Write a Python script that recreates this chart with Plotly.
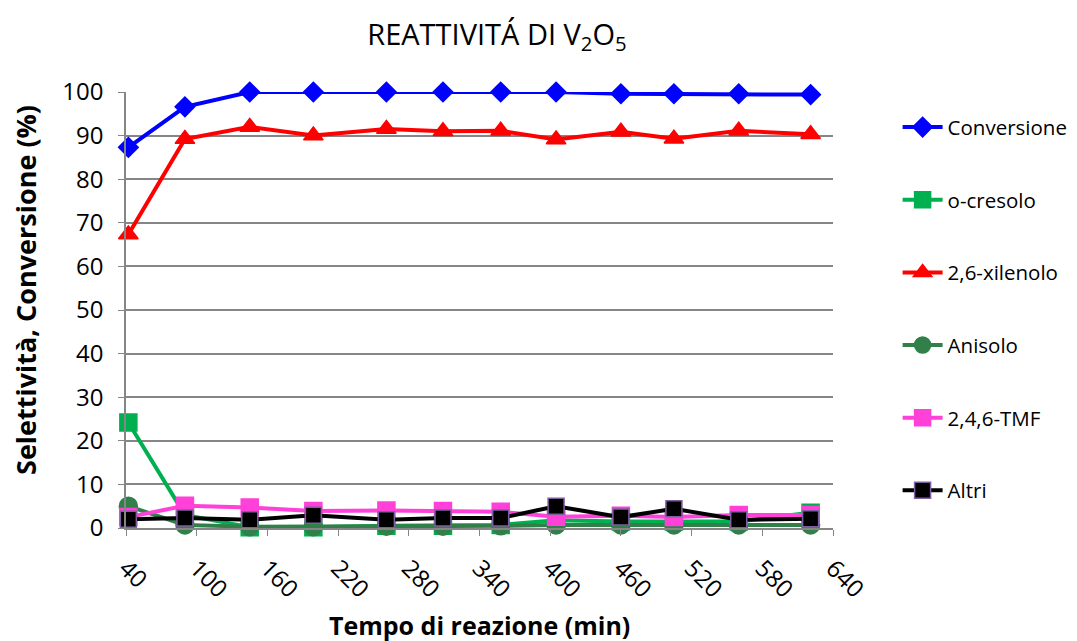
import plotly.graph_objects as go

# Tempo di reazione (min)
tempo = [42, 90, 145, 199, 261, 309, 358, 405, 460, 505, 560, 621]

conversione = [87.3, 96.6, 100.0, 100.0, 100.0, 100.0, 100.0, 100.0, 99.6, 99.6, 99.6, 99.4]
o_cresolo = [24.2, 3.0, 0.2, 0.2, 0.5, 0.5, 0.7, 1.8, 1.5, 1.5, 1.5, 3.5]
xilenolo = [67.3, 89.2, 92.0, 90.0, 91.5, 91.0, 91.1, 89.1, 90.9, 89.3, 91.1, 90.3]
anisolo = [5.0, 0.7, 0.3, 0.3, 0.4, 0.4, 0.5, 0.7, 0.7, 0.7, 0.7, 0.7]
tmf = [2.5, 5.1, 4.7, 3.9, 4.0, 3.9, 3.7, 2.6, 2.8, 2.5, 3.0, 3.0]
altri = [2.0, 2.3, 1.9, 2.9, 1.9, 2.3, 2.3, 5.0, 2.5, 4.4, 1.9, 2.1]

x_ticks = list(range(40, 641, 60))

series = [
    ("Conversione", conversione, "#0000FF", "diamond", 15, "#0000FF"),
    ("o-cresolo", o_cresolo, "#00B050", "square", 17, "#00B050"),
    ("2,6-xilenolo", xilenolo, "#FF0000", "triangle-up", 17, "#FF0000"),
    ("Anisolo", anisolo, "#31804A", "circle", 18, "#31804A"),
    ("2,4,6-TMF", tmf, "#FF40D9", "square", 17, "#FF40D9"),
    ("Altri", altri, "#000000", "square", 16, "#7F5F9F"),
]

fig = go.Figure()
for name, vals, color, symbol, size, edge in series:
    fig.add_trace(go.Scatter(
        x=tempo,
        y=vals,
        name=name,
        legendgroup=name,
        mode="lines+markers",
        line=dict(color=color, width=4),
        marker=dict(symbol=symbol, size=size, color=color,
                    line=dict(color=edge, width=1.5)),
        cliponaxis=False,
    ))

# axis titles as annotations (Excel places the y title off-centre)
fig.add_annotation(
    text="<b>Selettività, Conversione (%)</b>",
    xref="paper", yref="paper", x=-0.1414, y=0.546,
    xanchor="center", yanchor="middle", textangle=-90,
    showarrow=False, font=dict(size=27),
)
fig.add_annotation(
    text="<b>Tempo di reazione (min)</b>",
    xref="paper", yref="paper", x=0.5, y=-0.222,
    xanchor="center", yanchor="middle",
    showarrow=False, font=dict(size=25),
)

fig.update_layout(
    width=1077,
    height=641,
    paper_bgcolor="white",
    plot_bgcolor="white",
    font=dict(family="Open Sans, Noto Sans, sans-serif", color="black"),
    title=dict(
        text="REATTIVITÁ DI V<sub>2</sub>O<sub>5</sub>",
        x=0.454, xanchor="center", y=0.958, yanchor="middle",
        font=dict(size=29),
    ),
    margin=dict(l=118, r=252, t=84, b=121),
    legend=dict(
        xref="container", x=0.826, xanchor="left",
        y=0.965, yanchor="top",
        font=dict(size=20.5),
        tracegroupgap=43,
        itemwidth=40,
    ),
    xaxis=dict(
        range=[40, 640],
        tickvals=x_ticks,
        tickangle=45,
        tickfont=dict(size=24),
        ticklabelstandoff=9,
        showgrid=False,
        showline=True, linecolor="#868686", linewidth=1.5,
        ticks="outside", ticklen=6, tickcolor="#868686",
        zeroline=False,
    ),
    yaxis=dict(
        range=[0, 100],
        dtick=10,
        tickfont=dict(size=24),
        ticklabelstandoff=10,
        showgrid=True, gridcolor="#868686", gridwidth=1.5,
        showline=True, linecolor="#868686", linewidth=1.5,
        ticks="outside", ticklen=6, tickcolor="#868686",
        zeroline=False,
    ),
)

fig.write_html("out.html")
